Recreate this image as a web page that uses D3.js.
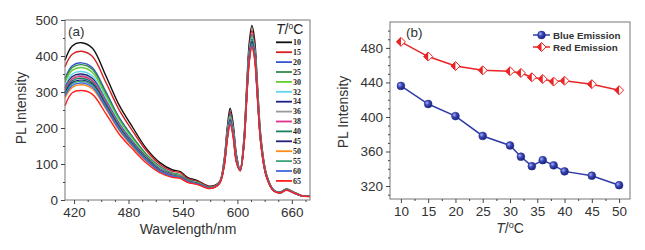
<!DOCTYPE html>
<html>
<head>
<meta charset="utf-8">
<script src="https://cdn.jsdelivr.net/npm/d3@7"></script>
<style>
  body { margin: 0; background: #fff; }
  svg { font-family: "Liberation Sans", Arial, sans-serif; }
</style>
</head>
<body>
<svg id="chart" width="645" height="250"></svg>
<script>
// ---- panel (a): PL spectra at different temperatures ----
var wavelengths = [410, 418, 428, 440, 455, 470, 485, 500, 515, 528, 537, 545, 556, 570,
                   580, 585, 589, 592, 595, 599, 603, 607, 610, 613, 616, 619, 622, 626, 632, 640, 647, 654, 662, 670, 680];
var temps = [10, 15, 20, 25, 30, 32, 34, 36, 38, 40, 45, 50, 55, 60, 65];
var spectra = [
  [388, 428, 437, 422, 345, 262, 200, 142, 103, 84, 79, 63, 54, 38, 50, 105, 205, 255, 218, 125, 84, 165, 305, 435, 485, 445, 325, 172, 72, 28, 22, 31, 22, 13, 10],
  [370, 405, 413, 399, 327, 249, 190, 136, 98, 80, 76, 60, 52, 37, 49, 101, 197, 245, 209, 120, 83, 160, 296, 421, 470, 431, 315, 167, 70, 27, 21, 30, 21, 13, 10],
  [338, 373, 381, 368, 301, 228, 174, 126, 92, 75, 70, 57, 49, 35, 48, 99, 193, 240, 205, 118, 83, 156, 289, 412, 460, 422, 308, 163, 69, 27, 21, 30, 21, 12, 10],
  [334, 368, 376, 363, 297, 225, 172, 125, 91, 74, 70, 56, 49, 35, 48, 97, 189, 235, 201, 115, 83, 155, 286, 408, 455, 417, 305, 161, 68, 27, 21, 30, 21, 12, 10],
  [327, 360, 368, 355, 290, 221, 168, 122, 89, 73, 69, 55, 48, 34, 48, 96, 187, 232, 198, 114, 83, 154, 285, 407, 454, 417, 304, 161, 68, 27, 21, 30, 21, 12, 10],
  [317, 350, 357, 345, 282, 214, 163, 119, 87, 71, 67, 54, 47, 34, 47, 95, 185, 230, 197, 113, 83, 153, 283, 404, 450, 413, 302, 160, 67, 27, 21, 29, 21, 12, 10],
  [311, 343, 350, 338, 276, 210, 160, 118, 85, 71, 66, 54, 46, 34, 47, 93, 182, 226, 193, 111, 82, 152, 281, 400, 446, 409, 299, 158, 67, 26, 21, 29, 21, 12, 10],
  [307, 339, 346, 334, 273, 208, 158, 116, 84, 70, 66, 53, 46, 34, 47, 94, 183, 228, 195, 112, 82, 151, 279, 398, 444, 407, 297, 157, 66, 26, 21, 29, 21, 12, 10],
  [305, 336, 343, 331, 271, 206, 157, 115, 83, 69, 65, 53, 46, 34, 47, 93, 181, 225, 192, 110, 82, 150, 277, 395, 441, 405, 295, 156, 66, 26, 21, 29, 21, 12, 10],
  [300, 331, 338, 326, 267, 203, 155, 114, 82, 68, 64, 52, 46, 34, 47, 92, 180, 224, 191, 110, 82, 150, 278, 396, 442, 405, 296, 157, 66, 26, 21, 29, 21, 12, 10],
  [296, 326, 333, 322, 263, 200, 152, 112, 81, 67, 63, 52, 45, 33, 46, 91, 177, 220, 188, 108, 82, 149, 275, 393, 438, 402, 293, 155, 65, 26, 20, 28, 20, 12, 10],
  [284, 313, 320, 309, 253, 192, 146, 108, 78, 66, 62, 50, 44, 33, 46, 89, 174, 216, 185, 106, 82, 147, 271, 387, 431, 396, 289, 153, 65, 26, 20, 28, 20, 12, 10],
  [293, 323, 330, 319, 260, 198, 151, 111, 80, 67, 63, 52, 45, 33, 46, 90, 175, 218, 186, 107, 82, 148, 273, 389, 434, 398, 291, 154, 65, 26, 20, 28, 20, 12, 10],
  [289, 318, 325, 314, 257, 195, 149, 109, 79, 66, 62, 51, 45, 33, 46, 89, 173, 215, 184, 105, 82, 146, 271, 386, 430, 395, 288, 153, 64, 26, 20, 28, 20, 12, 10],
  [262, 298, 304, 294, 240, 182, 140, 102, 75, 63, 60, 49, 43, 32, 45, 87, 169, 210, 180, 103, 81, 145, 267, 381, 425, 390, 285, 151, 64, 25, 20, 27, 20, 12, 9]
];
var lineColors = ["#111111", "#d42020", "#3a55cc", "#2e8b4a", "#66cc33", "#5fd6ec", "#1c1f8a", "#9a9a9a",
                  "#e0348c", "#1b8060", "#20207a", "#ff8c1a", "#3aa37a", "#4466dd", "#ff2020"];

// ---- panel (b): peak intensity vs temperature ----
var tempsB = [10, 15, 20, 25, 30, 32, 34, 36, 38, 40, 45, 50];
var blueEmission = [436, 415, 401, 378, 367, 354, 343, 350, 344, 337, 332, 321];
var redEmission = [487, 470, 459, 454, 453, 451, 446, 444, 441, 442, 438, 431];

var svg = d3.select("#chart");
var axisColor = "#444";

function styleAxis(g, size) {
  g.attr("font-size", size).attr("font-family", null);
  g.select(".domain").remove();
  g.selectAll("line").attr("stroke", axisColor);
  g.selectAll("text").attr("fill", "#333");
}

// ===== panel (a) =====
var xA = d3.scaleLinear().domain([410, 680]).range([65, 310]);
var yA = d3.scaleLinear().domain([0, 500]).range([200, 20]);

var lineA = d3.line()
  .x(function(d){ return xA(d[0]); })
  .y(function(d){ return yA(d[1]); })
  .curve(d3.curveCatmullRom.alpha(0.5));

var gA = svg.append("g");
gA.selectAll("path.spec")
  .data(spectra).enter().append("path")
  .attr("class", "spec")
  .attr("d", function(s){ return lineA(s.map(function(v, i){ return [wavelengths[i], v]; })); })
  .attr("fill", "none")
  .attr("stroke", function(s, i){ return lineColors[i]; })
  .attr("stroke-width", 1.4);

gA.append("rect").attr("x", 65).attr("y", 20).attr("width", 245).attr("height", 180)
  .attr("fill", "none").attr("stroke", "#777").attr("stroke-width", 1);

var xAxA = gA.append("g").attr("transform", "translate(0,200)")
  .call(d3.axisBottom(xA).tickValues([420, 480, 540, 600, 660]).tickSize(4).tickPadding(3));
styleAxis(xAxA, 13.5);
var xMinA = gA.append("g").attr("transform", "translate(0,200)")
  .call(d3.axisBottom(xA).tickValues([435, 450, 465, 495, 510, 525, 555, 570, 585, 615, 630, 645, 675]).tickSize(2).tickFormat(""));
styleAxis(xMinA, 10);

var yAxA = gA.append("g").attr("transform", "translate(65,0)")
  .call(d3.axisLeft(yA).tickValues([0, 100, 200, 300, 400, 500]).tickSize(4).tickPadding(3));
styleAxis(yAxA, 13.5);
var yMinA = gA.append("g").attr("transform", "translate(65,0)")
  .call(d3.axisLeft(yA).tickValues([50, 150, 250, 350, 450]).tickSize(2).tickFormat(""));
styleAxis(yMinA, 10);

gA.append("text").attr("x", 188).attr("y", 234).attr("text-anchor", "middle")
  .attr("font-size", 14).attr("fill", "#333").text("Wavelength/nm");
gA.append("text").attr("transform", "translate(26,108) rotate(-90)").attr("text-anchor", "middle")
  .attr("font-size", 14).attr("fill", "#333").text("PL Intensity");
gA.append("text").attr("x", 68).attr("y", 36).attr("font-size", 13.5).attr("fill", "#333").text("(a)");

// legend (a)
var legT = gA.append("text").attr("x", 276).attr("y", 34).attr("font-size", 14).attr("fill", "#222");
legT.append("tspan").attr("font-style", "italic").text("T");
legT.append("tspan").text("/");
legT.append("tspan").attr("font-size", 8.5).attr("dy", -5).text("o");
legT.append("tspan").attr("dy", 5).text("C");

var legA = gA.selectAll("g.leg").data(temps).enter().append("g")
  .attr("class", "leg")
  .attr("transform", function(d, i){ return "translate(276," + (42.3 + i * 9.9) + ")"; });
legA.append("line").attr("x1", 0).attr("x2", 16)
  .attr("stroke", function(d, i){ return lineColors[i]; }).attr("stroke-width", 1.8);
legA.append("text").attr("x", 17).attr("y", 2.7)
  .attr("font-family", "Liberation Serif, Times New Roman, serif").attr("font-weight", "bold")
  .attr("font-size", 8).attr("fill", "#222")
  .text(function(d){ return d; });

// ===== panel (b) =====
var xB = d3.scaleLinear().domain([8, 52]).range([390, 630]);
var yB = d3.scaleLinear().domain([305, 510]).range([199, 22]);

var defs = svg.append("defs");
var grad = defs.append("radialGradient").attr("id", "ball").attr("cx", "35%").attr("cy", "35%").attr("r", "65%");
grad.append("stop").attr("offset", "0%").attr("stop-color", "#a8b4ff");
grad.append("stop").attr("offset", "45%").attr("stop-color", "#3b49b8");
grad.append("stop").attr("offset", "100%").attr("stop-color", "#1c237a");

var gB = svg.append("g");
gB.append("rect").attr("x", 390).attr("y", 22).attr("width", 240).attr("height", 177)
  .attr("fill", "none").attr("stroke", "#777").attr("stroke-width", 1);

var lineB = d3.line()
  .x(function(d){ return xB(d[0]); })
  .y(function(d){ return yB(d[1]); });

var redPts = tempsB.map(function(t, i){ return [t, redEmission[i]]; });
var bluePts = tempsB.map(function(t, i){ return [t, blueEmission[i]]; });

gB.append("path").attr("d", lineB(redPts)).attr("fill", "none").attr("stroke", "#e82424").attr("stroke-width", 1.5);
gB.append("path").attr("d", lineB(bluePts)).attr("fill", "none").attr("stroke", "#2f3ca8").attr("stroke-width", 1.5);

function redMarker(g, x, y) {
  var s = 4.5;
  g.append("path").attr("d", "M" + (x - s) + "," + y + "L" + x + "," + (y - s) + "L" + (x + s) + "," + y + "L" + x + "," + (y + s) + "Z")
    .attr("fill", "#fff").attr("stroke", "#e82424").attr("stroke-width", 1);
  g.append("path").attr("d", "M" + (x - s) + "," + y + "L" + x + "," + (y - s) + "L" + x + "," + (y + s) + "Z")
    .attr("fill", "#e82424");
}
function blueMarker(g, x, y) {
  g.append("circle").attr("cx", x).attr("cy", y).attr("r", 3.9)
    .attr("fill", "url(#ball)").attr("stroke", "#26308f").attr("stroke-width", 0.6);
}

redPts.forEach(function(p){ redMarker(gB, xB(p[0]), yB(p[1])); });
bluePts.forEach(function(p){ blueMarker(gB, xB(p[0]), yB(p[1])); });

var xAxB = gB.append("g").attr("transform", "translate(0,199)")
  .call(d3.axisBottom(xB).tickValues([10, 15, 20, 25, 30, 35, 40, 45, 50]).tickSize(4).tickPadding(3));
styleAxis(xAxB, 13.5);
var xMinB = gB.append("g").attr("transform", "translate(0,199)")
  .call(d3.axisBottom(xB).tickValues([12.5, 17.5, 22.5, 27.5, 32.5, 37.5, 42.5, 47.5]).tickSize(2).tickFormat(""));
styleAxis(xMinB, 10);

var yAxB = gB.append("g").attr("transform", "translate(390,0)")
  .call(d3.axisLeft(yB).tickValues([320, 360, 400, 440, 480]).tickSize(4).tickPadding(3));
styleAxis(yAxB, 13.5);
var yMinB = gB.append("g").attr("transform", "translate(390,0)")
  .call(d3.axisLeft(yB).tickValues([310, 330, 340, 350, 370, 380, 390, 410, 420, 430, 450, 460, 470, 490, 500]).tickSize(2).tickFormat(""));
styleAxis(yMinB, 10);

var tTitle = gB.append("text").attr("x", 510).attr("y", 233).attr("text-anchor", "middle")
  .attr("font-size", 14).attr("fill", "#333");
tTitle.append("tspan").attr("font-style", "italic").text("T");
tTitle.append("tspan").text("/");
tTitle.append("tspan").attr("font-size", 9).attr("dy", -5).text("o");
tTitle.append("tspan").attr("dy", 5).text("C");

gB.append("text").attr("transform", "translate(348,112) rotate(-90)").attr("text-anchor", "middle")
  .attr("font-size", 14).attr("fill", "#333").text("PL Intensity");
gB.append("text").attr("x", 406).attr("y", 37).attr("font-size", 13.5).attr("fill", "#333").text("(b)");

// legend (b)
var legB = gB.append("g");
legB.append("line").attr("x1", 533).attr("x2", 550).attr("y1", 35).attr("y2", 35).attr("stroke", "#2f3ca8").attr("stroke-width", 1.5);
blueMarker(legB, 541.5, 35);
legB.append("text").attr("x", 553).attr("y", 38.5).attr("font-size", 9.8).attr("font-weight", "bold").attr("fill", "#333").text("Blue Emission");
legB.append("line").attr("x1", 533).attr("x2", 550).attr("y1", 47).attr("y2", 47).attr("stroke", "#e82424").attr("stroke-width", 1.5);
redMarker(legB, 541.5, 47);
legB.append("text").attr("x", 553).attr("y", 50.5).attr("font-size", 9.8).attr("font-weight", "bold").attr("fill", "#333").text("Red Emission");
</script>
</body>
</html>
